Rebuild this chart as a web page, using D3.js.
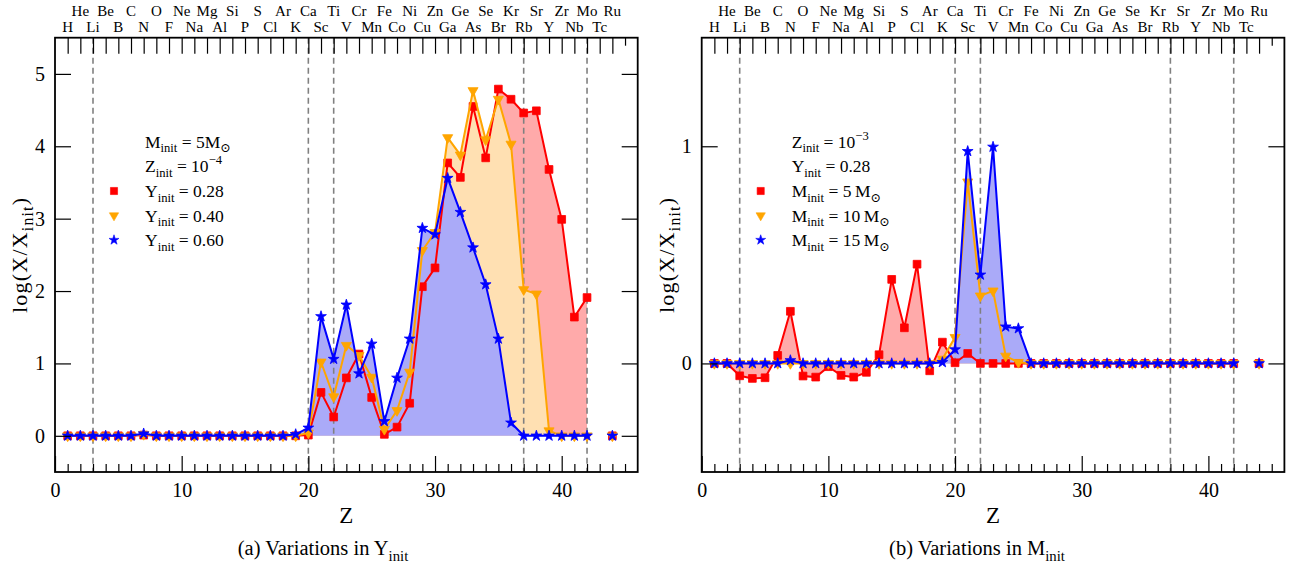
<!DOCTYPE html>
<html>
<head>
<meta charset="utf-8">
<script src="https://cdn.jsdelivr.net/npm/d3@7"></script>
<style>
  html, body { margin: 0; padding: 0; background: #fff; }
  svg { display: block; }
  text { font-family: "Liberation Serif", "DejaVu Serif", serif; fill: #000; }
</style>
</head>
<body>
<svg id="fig" width="1291" height="568"></svg>
<script>
// Atomic numbers and element symbols on the top axis
const elements = ["H","He","Li","Be","B","C","N","O","F","Ne","Na","Mg","Al","Si","P","S","Cl","Ar","K","Ca",
  "Sc","Ti","V","Cr","Mn","Fe","Co","Ni","Cu","Zn","Ga","Ge","As","Se","Br","Kr","Rb","Sr","Y","Zr","Nb","Mo","Tc","Ru"];
const Z = d3.range(1, 45);

// Reference atomic numbers marked with dashed lines
const markedZ = [3, 20, 22, 37, 42];

// Panel (a): M_init = 5 Msun, Z_init = 1e-4, varying Y_init (Z = 1..44, Tc has no value)
const yInit028 = [0,0,0,0,0,0,0.01,0,0,0,0,0,0,0,0,0,0,0,0,0.01,
  0.60,0.26,0.80,1.13,0.53,0.02,0.12,0.45,2.06,2.32,3.77,3.57,4.55,3.84,4.79,4.65,4.46,4.49,3.68,2.99,1.64,1.91,null,0];
const yInit040 = [0,0,0,0,0,0,0.02,0,0,0,0,0,0,0,0,0,0,0,0,0.04,
  1.02,0.54,1.25,1.11,0.81,0.09,0.35,0.88,2.56,2.81,4.12,3.88,4.77,4.09,4.65,4.03,2.02,1.96,0.07,0,0,0,null,0];
const yInit060 = [0,0,0,0,0,0,0.03,0,0,0,0,0,0,0,0,0,0,0,0.02,0.11,
  1.65,1.06,1.81,0.86,1.27,0.20,0.80,1.34,2.87,2.78,3.56,3.09,2.60,2.09,1.34,0.18,0,0,0,0,0,0,null,0];

// Panel (b): Z_init = 1e-3, Y_init = 0.28, varying M_init
const mInit5 = [0,0,-0.057,-0.069,-0.066,0.037,0.24,-0.058,-0.063,-0.015,-0.055,-0.063,-0.041,0.040,0.387,0.164,0.457,-0.034,0.098,0.003,
  0.046,0,0,0,0,0,0,0,0,0,0,0,0,0,0,0,0,0,0,0,0,0,null,0];
const mInit10 = [0,0,0,0,0,0,0,0,0,0,0,0,0,0,0,0,0,0,0.02,0.12,
  0.836,0.311,0.334,0.034,0.005,0,0,0,0,0,0,0,0,0,0,0,0,0,0,0,0,0,null,0];
const mInit15 = [0,0,0,0,0,0,0.014,0,0,0,0,0,0,0,0,0,0,0,0.005,0.064,
  0.977,0.408,0.997,0.169,0.161,0,0,0,0,0,0,0,0,0,0,0,0,0,0,0,0,0,null,0];

const xTicks = [0, 10, 20, 30, 40];
const yTicksA = [0, 1, 2, 3, 4, 5];
const yTicksB = [0, 1];

const styles = [
  {line: "#ff0000", fill: "#ffaaaa", symbol: d3.symbolSquare, size: 60, rot: 0},
  {line: "#ffa500", fill: "#ffe0b2", symbol: d3.symbolTriangle, size: 44, rot: 180},
  {line: "#0000ff", fill: "#aaaaf8", symbol: d3.symbolStar, size: 36, rot: 0}
];

// Writes a text made of plain / subscript / superscript pieces
function rich(textSel, segs) {
  let shift = 0;
  segs.forEach(s => {
    const target = s.sub ? 0.28 : s.sup ? -0.45 : 0;
    const ts = textSel.append("tspan").text(s.t);
    if (s.sub || s.sup) ts.attr("font-size", "0.72em");
    const dyEm = target - shift;
    if (dyEm !== 0) {
      const base = (s.sub || s.sup) ? dyEm / 0.72 : dyEm;
      ts.attr("dy", base + "em");
    }
    shift = target;
  });
}

const svg = d3.select("#fig");

function panel(cfg) {
  const x = d3.scaleLinear().domain([0, 46]).range([cfg.left, cfg.left + 582.7]);
  const y = d3.scaleLinear().domain(cfg.yDomain).range([472, 37.7]);
  const g = svg.append("g");
  const [x0, x1] = x.range();
  const [yb, yt] = y.range();

  const rows = Z.map((z, i) => ({z, vals: cfg.series.map(s => s[i])}));

  // filled areas down to zero
  cfg.series.forEach((s, k) => {
    const area = d3.area()
      .defined(d => d.vals[k] !== null && d.z <= 42)
      .x(d => x(d.z)).y0(y(0)).y1(d => y(d.vals[k]));
    g.append("path").datum(rows).attr("d", area)
      .attr("fill", styles[k].fill).attr("stroke", "none");
  });

  // dashed reference lines
  g.selectAll(".ref").data(markedZ).join("line")
    .attr("x1", d => x(d)).attr("x2", d => x(d))
    .attr("y1", yt).attr("y2", yb)
    .attr("stroke", "#808080").attr("stroke-width", 1.6)
    .attr("stroke-dasharray", "6,4");

  // lines and markers
  cfg.series.forEach((s, k) => {
    const line = d3.line()
      .defined(d => d.vals[k] !== null && d.z <= 42)
      .x(d => x(d.z)).y(d => y(d.vals[k]));
    g.append("path").datum(rows).attr("d", line)
      .attr("fill", "none").attr("stroke", styles[k].line).attr("stroke-width", 2);
    const sym = d3.symbol().type(styles[k].symbol).size(styles[k].size);
    g.selectAll(null).data(rows.filter(d => d.vals[k] !== null)).join("path")
      .attr("d", sym)
      .attr("transform", d => `translate(${x(d.z)},${y(d.vals[k])}) rotate(${styles[k].rot})`)
      .attr("fill", styles[k].line).attr("stroke", styles[k].line).attr("stroke-width", 0.8);
  });

  // axes with inward ticks
  const axG = g.append("g");
  axG.append("g").attr("transform", `translate(0,${yb})`)
    .call(d3.axisBottom(x).tickValues(xTicks).tickSize(-16).tickPadding(11).tickFormat(d3.format("d")));
  axG.append("g").attr("transform", `translate(0,${yb})`)
    .call(d3.axisBottom(x).tickValues(d3.range(1, 46).filter(v => v % 10 !== 0)).tickSize(-8).tickFormat(""));
  axG.append("g").attr("transform", `translate(0,${yt})`)
    .call(d3.axisTop(x).tickValues(Z).tickSize(-16).tickFormat(""));
  axG.append("g").attr("transform", `translate(0,${yt})`)
    .call(d3.axisTop(x).tickValues([45]).tickSize(-8).tickFormat(""));
  axG.append("g").attr("transform", `translate(${x0},0)`)
    .call(d3.axisLeft(y).tickValues(cfg.yTicks).tickSize(-16).tickPadding(10).tickFormat(d3.format("d")));
  axG.append("g").attr("transform", `translate(${x1},0)`)
    .call(d3.axisRight(y).tickValues(cfg.yTicks).tickSize(-16).tickFormat(""));
  axG.selectAll(".domain").remove();
  axG.selectAll(".tick line").attr("stroke", "#000").attr("stroke-width", 1.2);
  axG.selectAll(".tick text")
    .attr("font-family", "Liberation Serif, serif").attr("font-size", 20).attr("fill", "#000");

  // frame
  g.append("rect").attr("x", x0).attr("y", yt).attr("width", x1 - x0).attr("height", yb - yt)
    .attr("fill", "none").attr("stroke", "#000").attr("stroke-width", 1.8);

  // element symbols along the top, alternating rows
  g.selectAll(".el").data(Z).join("text")
    .attr("x", d => x(d)).attr("y", d => d % 2 === 0 ? 16 : 32)
    .attr("text-anchor", "middle").attr("font-size", 15)
    .text((d, i) => elements[i]);

  // axis titles
  g.append("text").attr("x", (x0 + x1) / 2).attr("y", 523).attr("text-anchor", "middle")
    .attr("font-size", 23).text("Z");
  const yl = g.append("text").attr("transform", `translate(${cfg.left - 28},${(yt + yb) / 2}) rotate(-90)`)
    .attr("text-anchor", "middle").attr("font-size", 22).attr("letter-spacing", 1.2);
  rich(yl, [{t: "log(X/X"}, {t: "init", sub: true}, {t: ")"}]);

  // caption
  const cap = g.append("text").attr("x", cfg.capX).attr("y", 555).attr("text-anchor", "middle").attr("font-size", 20.5);
  rich(cap, cfg.caption);

  // legend
  const lg = g.append("g").attr("font-size", 17.5);
  cfg.legendHead.forEach((segs, i) => {
    rich(lg.append("text").attr("x", cfg.left + 90).attr("y", 147.5 + i * 24.5), segs);
  });
  cfg.legendItems.forEach((segs, k) => {
    const yy = 191 + k * 24.5;
    lg.append("path").attr("d", d3.symbol().type(styles[k].symbol).size(styles[k].size * 0.85))
      .attr("transform", `translate(${cfg.left + 59},${yy}) rotate(${styles[k].rot})`)
      .attr("fill", styles[k].line).attr("stroke", styles[k].line).attr("stroke-width", 0.6);
    rich(lg.append("text").attr("x", cfg.left + 90).attr("y", yy + 6), segs);
  });
}

panel({
  left: 55,
  yDomain: [-0.5, 5.5],
  yTicks: yTicksA,
  series: [yInit028, yInit040, yInit060],
  capX: 323,
  caption: [{t: "(a)  Variations in Y"}, {t: "init", sub: true}],
  legendHead: [
    [{t: "M"}, {t: "init", sub: true}, {t: " = 5M"}, {t: "\u2299", sub: true}],
    [{t: "Z"}, {t: "init", sub: true}, {t: " = 10"}, {t: "\u22124", sup: true}]
  ],
  legendItems: [
    [{t: "Y"}, {t: "init", sub: true}, {t: " = 0.28"}],
    [{t: "Y"}, {t: "init", sub: true}, {t: " = 0.40"}],
    [{t: "Y"}, {t: "init", sub: true}, {t: " = 0.60"}]
  ]
});

panel({
  left: 701.7,
  yDomain: [-0.5, 1.5],
  yTicks: yTicksB,
  series: [mInit5, mInit10, mInit15],
  capX: 977,
  caption: [{t: "(b)  Variations in M"}, {t: "init", sub: true}],
  legendHead: [
    [{t: "Z"}, {t: "init", sub: true}, {t: " = 10"}, {t: "\u22123", sup: true}],
    [{t: "Y"}, {t: "init", sub: true}, {t: " = 0.28"}]
  ],
  legendItems: [
    [{t: "M"}, {t: "init", sub: true}, {t: " = 5\u2009M"}, {t: "\u2299", sub: true}],
    [{t: "M"}, {t: "init", sub: true}, {t: " = 10\u2009M"}, {t: "\u2299", sub: true}],
    [{t: "M"}, {t: "init", sub: true}, {t: " = 15\u2009M"}, {t: "\u2299", sub: true}]
  ]
});
</script>
</body>
</html>
